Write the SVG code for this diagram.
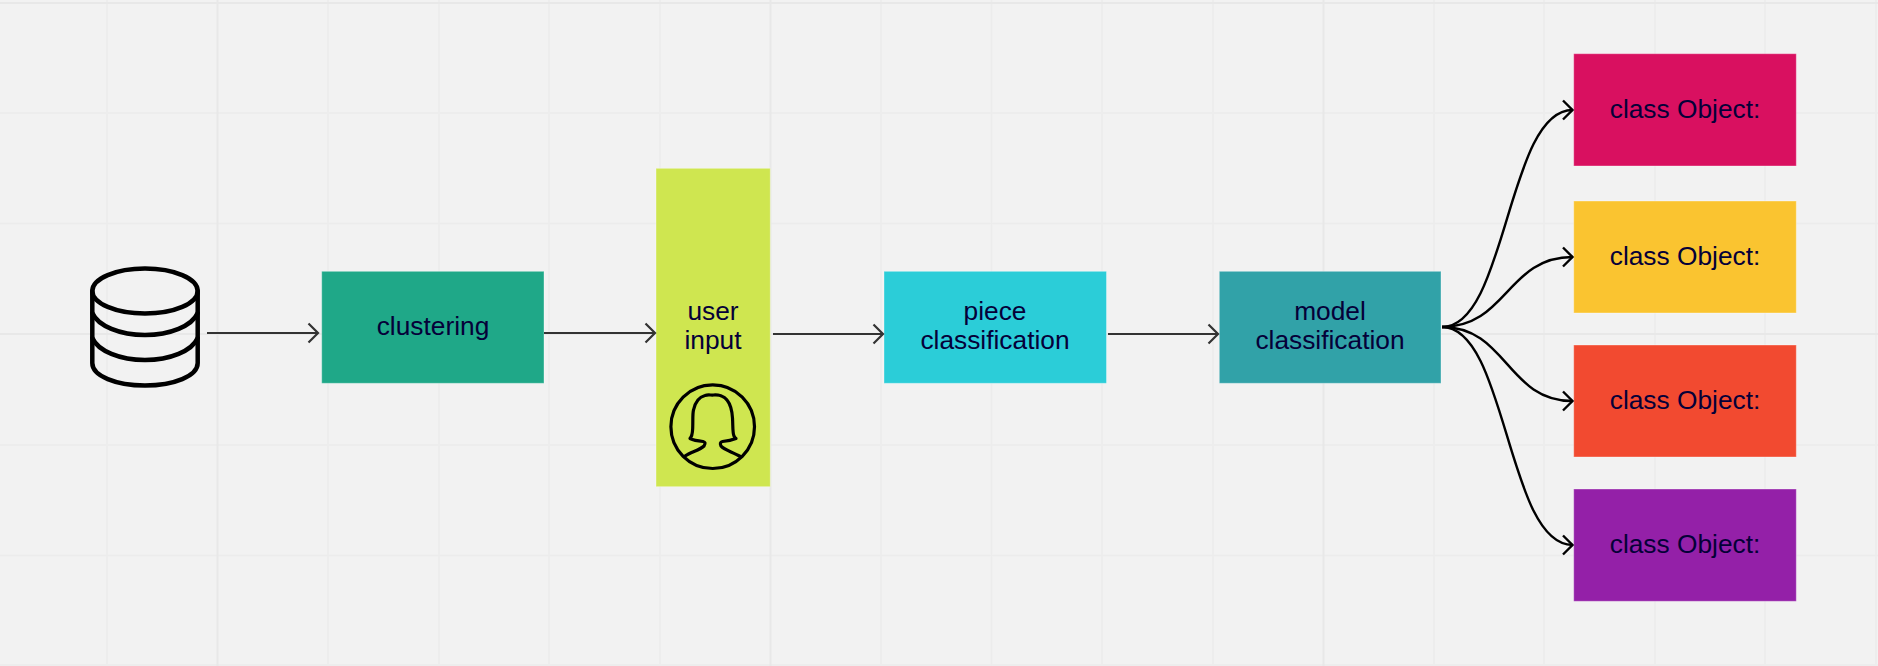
<svg xmlns="http://www.w3.org/2000/svg" width="1878" height="666" viewBox="0 0 1878 666">
<style>
.minor{stroke:#ececec;stroke-width:1.5;fill:none}
.major{stroke:#e8e8e8;stroke-width:2;fill:none}
.box{stroke:#ffffff;stroke-opacity:.35;stroke-width:1}
.t{font-family:"Liberation Sans",Arial,sans-serif;font-size:26.3px;fill:#050038;text-anchor:middle}
.c{fill:none;stroke:#333333;stroke-width:2}
.k{fill:none;stroke:#000000;stroke-width:2.4}
.icon{fill:none;stroke:#000000;stroke-linejoin:round;stroke-linecap:round}
</style>
<defs>
<marker id="a1" markerUnits="userSpaceOnUse" markerWidth="14" markerHeight="24" refX="11" refY="12" orient="auto"><path d="M1.5,2.5L11,12L1.5,21.5" fill="none" stroke="#333333" stroke-width="2.2"/></marker>
<marker id="a2" markerUnits="userSpaceOnUse" markerWidth="14" markerHeight="24" refX="11" refY="12" orient="auto"><path d="M1.5,2.5L11,12L1.5,21.5" fill="none" stroke="#000000" stroke-width="2.4"/></marker>
</defs>
<rect width="1878" height="666" fill="#f2f2f2"/>
<g id="grid">
<path class="minor" d="M107,0V666M328,0V666M439,0V666M549,0V666M660,0V666M881,0V666M991.5,0V666M1102,0V666M1213,0V666M1434,0V666M1544,0V666M1655,0V666M1765,0V666M1876,0V666M0,113H1878M0,223.5H1878M0,445H1878M0,555.5H1878M0,665H1878"/>
<path class="major" d="M217.5,0V666M770.5,0V666M1323.5,0V666M0,3H1878M0,334H1878"/>
</g>
<g id="database" class="icon" stroke-width="4.5">
<ellipse cx="145" cy="291" rx="52.7" ry="22.5"/>
<path d="M92.3,291V363C92.3,376 116,385.5 145,385.5S197.7,376 197.7,363V291"/>
<path d="M92.3,313C98,326 120,335 145,335S192,326 197.7,313"/>
<path d="M92.3,338C98,351 120,360 145,360S192,351 197.7,338"/>
</g>
<g id="clustering"><rect class="box" x="321.7" y="271.3" width="222.3" height="112" fill="#1fa888"/><text class="t" x="433" y="335">clustering</text></g>
<g id="user-input"><rect class="box" x="656" y="168.3" width="114.3" height="318.4" fill="#cfe650"/><text class="t" x="713" y="320">user</text><text class="t" x="713" y="349">input</text>
<g class="icon" stroke-width="3.2"><circle cx="712.7" cy="426.7" r="41.8"/>
<path d="M685,456C691,452 700,450 704,446C706,443 705,442 703,441.5C698,441 693,440 690,438.5C692.5,436 692.5,433 692.7,428C693,420 692.5,414 693.5,410C695,403 699,397 705,395.5C709,394 711,395.5 713.5,395C718,394.5 724,396 727,400C731,405 732,410 732.5,418C733,426 732.5,433 734,436C735,438 736,438.5 736,438.5C732,440 727,441 722.5,441.5C720,442 720,444 721,446C724,450 733,452 740.7,456.7"/></g></g>
<g id="piece-classification"><rect class="box" x="884" y="271.3" width="222.5" height="112" fill="#2bcdd8"/><text class="t" x="995" y="320">piece</text><text class="t" x="995" y="349">classification</text></g>
<g id="model-classification"><rect class="box" x="1219.3" y="271.3" width="221.7" height="112" fill="#31a2a8"/><text class="t" x="1330" y="320">model</text><text class="t" x="1330" y="349">classification</text></g>
<g id="class-1"><rect class="box" x="1573.7" y="53.7" width="222.6" height="112.3" fill="#d91060"/><text class="t" x="1685" y="117.5">class Object:</text></g>
<g id="class-2"><rect class="box" x="1573.7" y="201" width="222.6" height="112" fill="#fac430"/><text class="t" x="1685" y="264.5">class Object:</text></g>
<g id="class-3"><rect class="box" x="1573.7" y="345" width="222.6" height="112" fill="#f24a30"/><text class="t" x="1685" y="408.5">class Object:</text></g>
<g id="class-4"><rect class="box" x="1573.7" y="489" width="222.6" height="112.3" fill="#9420a8"/><text class="t" x="1685" y="552.5">class Object:</text></g>
<g id="connectors">
<path class="c" d="M207,333H318" marker-end="url(#a1)"/>
<path class="c" d="M544,333H655" marker-end="url(#a1)"/>
<path class="c" d="M773,334H883" marker-end="url(#a1)"/>
<path class="c" d="M1108,334H1218" marker-end="url(#a1)"/>
<path class="k" d="M1442,327C1507,327 1507,110 1572.5,110" marker-end="url(#a2)"/>
<path class="k" d="M1442,327C1507,327 1507,257 1572.5,257" marker-end="url(#a2)"/>
<path class="k" d="M1442,327C1507,327 1507,401 1572.5,401" marker-end="url(#a2)"/>
<path class="k" d="M1442,327C1507,327 1507,545 1572.5,545" marker-end="url(#a2)"/>
</g>
</svg>
